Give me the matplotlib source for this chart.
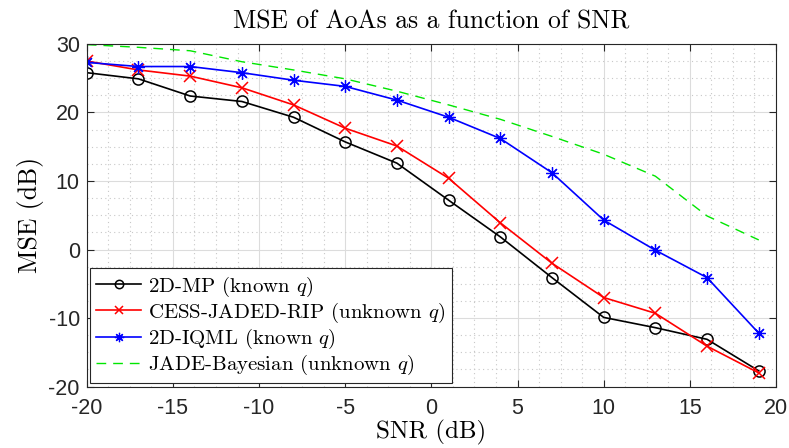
import numpy as np
import matplotlib.pyplot as plt
from matplotlib.ticker import MultipleLocator

plt.rcParams['mathtext.fontset'] = 'cm'
plt.rcParams['font.family'] = ['Liberation Sans', 'DejaVu Sans']
plt.rcParams['axes.unicode_minus'] = False

snr = [-20, -17, -14, -11, -8, -5, -2, 1, 4, 7, 10, 13, 16, 19]
mse_mp = [25.8, 24.9, 22.4, 21.6, 19.3, 15.7, 12.6, 7.2, 1.85, -4.1, -9.9, -11.4, -13.1, -17.7]
mse_cess = [27.5, 26.2, 25.3, 23.6, 21.1, 17.7, 15.1, 10.4, 3.9, -2.0, -7.0, -9.3, -14.1, -18.0]
mse_iqml = [27.3, 26.7, 26.7, 25.8, 24.7, 23.8, 21.8, 19.3, 16.2, 11.2, 4.3, -0.1, -4.1, -12.2]
mse_jade = [29.9, 29.5, 29.0, 27.4, 26.2, 24.9, 23.1, 21.1, 19.0, 16.5, 13.9, 10.7, 4.9, 1.4]

serif = ['cmr10', 'DejaVu Serif']

fig = plt.figure(figsize=(7.89, 4.48), dpi=100)
ax = fig.add_axes([0.110, 0.137, 0.8735, 0.765])

ax.plot(snr, mse_mp, color='black', lw=1.2, marker='o', ms=8, mfc='none', mew=1.1,
        label=r'2D-MP (known $q$)')
ax.plot(snr, mse_cess, color='red', lw=1.2, marker='x', ms=8, mew=1.1,
        label=r'CESS-JADED-RIP (unknown $q$)')
ax.plot(snr, mse_iqml, color='blue', lw=1.2, marker=(8, 2, 0), ms=9, mew=0.9,
        label=r'2D-IQML (known $q$)')
ax.plot(snr, mse_jade, color='#00e600', lw=1.0, ls=(0, (7, 5)),
        label=r'JADE-Bayesian (unknown $q$)')

ax.set_xlim(-20, 20)
ax.set_ylim(-20, 30)
ax.xaxis.set_major_locator(MultipleLocator(5))
ax.yaxis.set_major_locator(MultipleLocator(10))
ax.xaxis.set_minor_locator(MultipleLocator(1.25))
ax.yaxis.set_minor_locator(MultipleLocator(2.5))

ax.grid(True, which='major', color='#dcdcdc', lw=0.8)
ax.grid(True, which='minor', color='#c8c8c8', lw=0.8, ls=(0, (1, 3)))
ax.set_axisbelow(True)

axcol = '#262626'
for s in ax.spines.values():
    s.set_color(axcol)
    s.set_linewidth(0.8)
ax.tick_params(which='major', direction='in', top=True, right=True, length=5,
               colors=axcol, labelsize=15.5, labelcolor='#262626')
ax.tick_params(axis='x', pad=8)
ax.tick_params(axis='y', pad=5)
ax.tick_params(which='minor', length=0)

ax.set_title('MSE of AoAs as a function of SNR', family=serif, fontsize=18.4, pad=11)
ax.set_xlabel('SNR (dB)', family=serif, fontsize=18, labelpad=0.5)
ax.set_ylabel('MSE (dB)', family=serif, fontsize=18.5, labelpad=3)

leg = ax.legend(loc='lower left', prop={'family': serif, 'size': 15}, fancybox=False,
                framealpha=1, edgecolor=axcol, handlelength=2.15, handletextpad=0.35,
                borderaxespad=0.15, labelspacing=0.1, markerscale=0.75, borderpad=0.3)
leg.get_frame().set_linewidth(0.8)

fig.savefig('out.png', dpi=100)
